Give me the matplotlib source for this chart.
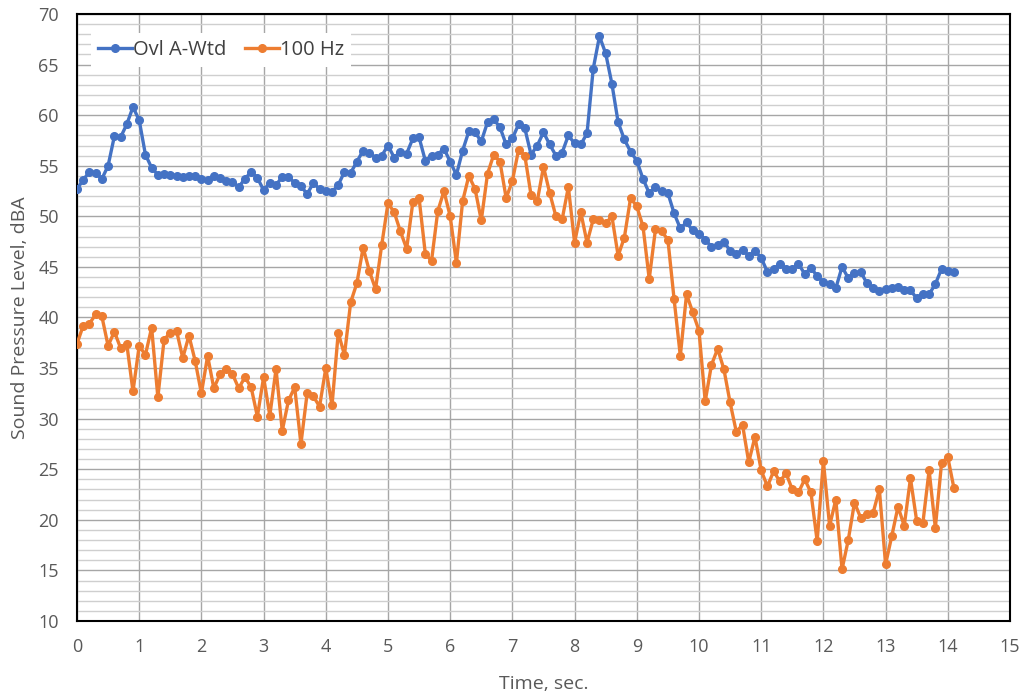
import numpy as np
import matplotlib.pyplot as plt
from matplotlib.ticker import MultipleLocator

# samples every 0.1 s
time_s = np.round(np.arange(142) * 0.1, 1)

ovl_a_wtd = [
    52.7, 53.6, 54.4, 54.3, 53.7, 55.0, 57.9, 57.8, 59.1, 60.8,
    59.5, 56.1, 54.8, 54.1, 54.2, 54.1, 54.0, 53.9, 54.0, 54.0,
    53.7, 53.6, 54.0, 53.8, 53.5, 53.4, 52.9, 53.7, 54.4, 53.8,
    52.6, 53.3, 53.1, 53.9, 53.9, 53.3, 53.0, 52.2, 53.3, 52.7,
    52.5, 52.4, 53.1, 54.4, 54.3, 55.4, 56.5, 56.3, 55.8, 56.0,
    57.0, 55.8, 56.4, 56.2, 57.7, 57.8, 55.5, 56.0, 56.1, 56.7,
    55.4, 54.1, 56.5, 58.4, 58.3, 57.4, 59.3, 59.6, 58.8, 57.1,
    57.7, 59.1, 58.7, 56.1, 57.0, 58.3, 57.1, 56.0, 56.3, 58.0,
    57.2, 57.1, 58.2, 64.6, 67.8, 66.1, 63.1, 59.3, 57.6, 56.4,
    55.5, 53.7, 52.3, 52.9, 52.5, 52.3, 50.3, 48.8, 49.4, 48.6,
    48.3, 47.7, 47.0, 47.2, 47.5, 46.6, 46.3, 46.7, 46.1, 46.6,
    45.9, 44.5, 44.8, 45.3, 44.8, 44.8, 45.3, 44.3, 44.9, 44.1,
    43.5, 43.3, 42.9, 45.0, 43.9, 44.4, 44.5, 43.4, 42.9, 42.6,
    42.8, 42.9, 43.0, 42.7, 42.7, 41.9, 42.3, 42.3, 43.3, 44.8,
    44.6, 44.5,
]

hz_100 = [
    37.4, 39.2, 39.4, 40.3, 40.1, 37.2, 38.6, 37.0, 37.4, 32.7,
    37.2, 36.3, 39.0, 32.1, 37.8, 38.5, 38.7, 36.0, 38.2, 35.7,
    32.5, 36.2, 33.0, 34.4, 34.9, 34.4, 33.0, 34.1, 33.1, 30.2,
    34.1, 30.3, 34.9, 28.8, 31.8, 33.1, 27.5, 32.5, 32.2, 31.2,
    35.0, 31.3, 38.5, 36.3, 41.5, 43.4, 46.9, 44.6, 42.8, 47.2,
    51.3, 50.4, 48.5, 46.8, 51.4, 51.8, 46.3, 45.6, 50.5, 52.5,
    50.0, 45.4, 51.5, 54.0, 52.7, 49.6, 54.2, 56.1, 55.4, 51.8,
    53.5, 56.6, 56.0, 52.1, 51.5, 54.9, 52.3, 50.0, 49.7, 52.9,
    47.4, 50.4, 47.4, 49.7, 49.6, 49.3, 50.0, 46.1, 47.9, 51.8,
    51.0, 49.0, 43.8, 48.7, 48.5, 47.7, 41.8, 36.2, 42.3, 40.5,
    38.7, 31.7, 35.3, 36.9, 34.9, 31.6, 28.7, 29.4, 25.7, 28.2,
    24.9, 23.3, 24.8, 23.8, 24.6, 23.0, 22.7, 24.0, 22.7, 17.9,
    25.8, 19.4, 22.0, 15.1, 18.0, 21.7, 20.2, 20.6, 20.7, 23.0,
    15.6, 18.4, 21.3, 19.4, 24.1, 19.9, 19.7, 24.9, 19.2, 25.6,
    26.2, 23.1,
]

plt.rcParams['font.family'] = ['Open Sans', 'DejaVu Sans']

fig = plt.figure(figsize=(10.24, 7), dpi=100)
ax = fig.add_axes([0.0752, 0.1129, 0.9111, 0.8671])

ax.plot(time_s, ovl_a_wtd, color='#4472C4', lw=2.4, marker='o', ms=5.5,
        label='Ovl A-Wtd', zorder=3)
ax.plot(time_s, hz_100, color='#ED7D31', lw=2.4, marker='o', ms=5.5,
        label='100 Hz', zorder=3)

ax.set_xlim(0, 15)
ax.set_ylim(10, 70)
ax.xaxis.set_major_locator(MultipleLocator(1))
ax.yaxis.set_major_locator(MultipleLocator(5))
ax.yaxis.set_minor_locator(MultipleLocator(1))

ax.grid(which='major', color='#A6A6A6', lw=1.0)
ax.grid(which='minor', axis='y', color='#CFCFCF', lw=1.0)
ax.set_axisbelow(True)

for sp in ax.spines.values():
    sp.set_color('black')
    sp.set_linewidth(1.5)

ax.tick_params(which='both', length=0, labelsize=13, labelcolor='#595959')
ax.tick_params(axis='y', pad=13)
ax.tick_params(axis='x', pad=12)

ax.set_xlabel('Time, sec.', fontsize=14, color='#595959', labelpad=14)
ax.set_ylabel('Sound Pressure Level, dBA', fontsize=14, color='#595959', labelpad=7)

leg = ax.legend(loc='upper left', ncol=2, frameon=True, fontsize=14.5,
                bbox_to_anchor=(0.004, 0.985), handlelength=1.7,
                columnspacing=0.9, handletextpad=0.05, borderpad=0.35)
leg.get_frame().set_facecolor('white')
leg.get_frame().set_edgecolor('none')
leg.get_frame().set_alpha(1)
leg.get_frame().set_boxstyle('square', pad=0)
for t in leg.get_texts():
    t.set_color('#404040')

fig.savefig('out.png', dpi=100)
